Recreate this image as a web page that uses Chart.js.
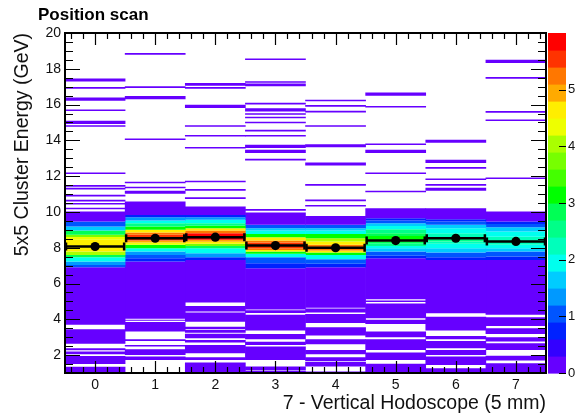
<!DOCTYPE html>
<html>
<head>
<meta charset="utf-8">
<script src="https://cdn.jsdelivr.net/npm/chart.js@4.4.1/dist/chart.umd.min.js"></script>
<style>
html, body { margin: 0; padding: 0; background: #fff; }
</style>
</head>
<body>
<canvas id="scanCanvas" width="584" height="415"></canvas>
<script>
// columnas (canal del hodoscopio)
const columns = ['0', '1', '2', '3', '4', '5', '6', '7']
const yTicks = [2, 4, 6, 8, 10, 12, 14, 16, 18, 20]
const zTicks = [0, 1, 2, 3, 4, 5]
const zMax = 6

// celdas por columna: [E min, E max, contenido]
const col0 = [
  [1.0, 1.35, 0.15], [1.5, 1.95, 0.15], [2.05, 2.2, 0.15], [2.27, 2.38, 0.15], [2.63, 3.45, 0.15], [3.69, 6.91, 0.15],
  [6.91, 7.04, 1.05], [7.04, 7.23, 1.35], [7.23, 7.47, 1.95], [7.47, 7.6, 2.85], [7.6, 7.79, 3.9], [7.79, 8.44, 4.65],
  [8.44, 8.6, 4.3], [8.6, 8.72, 3.6], [8.72, 8.96, 2.8], [8.96, 9.18, 1.65], [9.18, 9.46, 1.05], [9.46, 10.02, 0.15],
  [10.15, 10.24, 0.15], [10.41, 10.5, 0.15], [10.59, 10.68, 0.15], [10.87, 10.96, 0.15], [11.26, 11.35, 0.15],
  [11.41, 11.5, 0.15], [12.12, 12.21, 0.15], [14.76, 14.85, 0.15], [14.92, 15.09, 0.15], [15.64, 15.73, 0.15],
  [16.22, 16.39, 0.15], [16.89, 16.98, 0.15], [17.29, 17.46, 0.15]
]
const col1 = [
  [1.73, 1.92, 0.15], [2.01, 2.33, 0.15], [2.48, 2.57, 0.15], [2.79, 2.89, 0.15], [3.32, 3.85, 0.15], [3.92, 3.98, 0.15],
  [4.03, 7.23, 0.15],
  [7.23, 7.41, 0.75], [7.41, 7.6, 1.05], [7.6, 7.79, 1.35], [7.79, 7.97, 1.95], [7.97, 8.16, 3.0], [8.16, 8.29, 4.2],
  [8.29, 8.4, 5.0], [8.4, 8.72, 5.55], [8.72, 8.85, 5.1], [8.85, 9.0, 4.6], [9.0, 9.18, 3.2], [9.18, 9.37, 2.4],
  [9.37, 9.52, 1.8], [9.52, 9.7, 1.2], [9.7, 9.83, 0.75], [9.83, 10.58, 0.15],
  [11.02, 11.18, 0.15], [11.32, 11.41, 0.15], [11.6, 11.69, 0.15], [14.02, 14.11, 0.15], [16.3, 16.48, 0.15],
  [16.93, 17.02, 0.15], [18.79, 18.88, 0.15]
]
const col2 = [
  [1.0, 1.58, 0.15], [1.73, 1.88, 0.15], [2.1, 2.57, 0.15], [2.7, 2.85, 0.15], [2.94, 3.2, 0.15], [3.25, 3.4, 0.15],
  [3.45, 3.59, 0.15], [3.87, 4.38, 0.15], [4.43, 4.75, 0.15], [4.94, 7.32, 0.15],
  [7.32, 7.47, 0.75], [7.47, 7.69, 1.2], [7.69, 7.97, 1.95], [7.97, 8.1, 2.9], [8.1, 8.22, 3.6], [8.22, 8.33, 4.6],
  [8.33, 8.44, 5.0], [8.44, 8.81, 5.75], [8.81, 8.96, 5.1], [8.96, 9.09, 4.5], [9.09, 9.23, 3.2], [9.23, 9.37, 2.6],
  [9.37, 9.56, 1.8], [9.56, 9.7, 1.2], [9.7, 9.83, 0.75], [9.83, 10.3, 0.15],
  [10.73, 10.82, 0.15], [11.19, 11.28, 0.15], [11.66, 11.75, 0.15], [13.54, 13.63, 0.15], [14.21, 14.3, 0.15],
  [14.76, 14.85, 0.15], [15.81, 15.99, 0.15], [16.89, 16.98, 0.15], [17.05, 17.2, 0.15]
]
const col3 = [
  [1.0, 1.12, 0.15], [1.15, 1.36, 0.15], [1.73, 2.48, 0.15], [2.57, 2.74, 0.15], [2.89, 3.18, 0.15], [3.37, 4.25, 0.15],
  [4.35, 4.5, 0.15], [4.55, 6.86, 0.15],
  [6.86, 7.13, 0.75], [7.13, 7.47, 1.1], [7.47, 7.66, 1.95], [7.66, 7.79, 3.0], [7.79, 7.88, 4.5], [7.88, 7.97, 5.1],
  [7.97, 8.29, 5.6], [8.29, 8.4, 5.1], [8.4, 8.59, 4.5], [8.59, 8.77, 3.0], [8.77, 8.96, 2.0], [8.96, 9.09, 1.5],
  [9.09, 9.28, 1.05], [9.28, 9.97, 0.15],
  [10.07, 10.16, 0.15], [12.88, 12.97, 0.15], [13.3, 13.48, 0.15], [13.58, 13.76, 0.15], [14.21, 14.3, 0.15],
  [14.5, 14.59, 0.15], [14.95, 15.04, 0.15], [15.23, 15.32, 0.15], [15.43, 15.52, 0.15], [15.61, 15.79, 0.15],
  [16.01, 16.1, 0.15], [17.02, 17.18, 0.15], [17.22, 17.3, 0.15], [18.49, 18.58, 0.15]
]
const col4 = [
  [1.0, 1.08, 0.15], [1.36, 1.62, 0.15], [1.66, 1.88, 0.15], [2.05, 2.29, 0.15], [2.6, 2.89, 0.15], [3.1, 3.56, 0.15],
  [3.8, 4.3, 0.15], [4.38, 4.6, 0.15], [4.65, 6.91, 0.15],
  [6.91, 7.1, 0.75], [7.1, 7.36, 1.1], [7.36, 7.6, 1.95], [7.6, 7.73, 3.0], [7.73, 7.84, 4.5], [7.84, 8.16, 5.2],
  [8.16, 8.35, 4.6], [8.35, 8.53, 4.0], [8.53, 8.77, 3.0], [8.77, 8.96, 2.0], [8.96, 9.09, 1.5], [9.09, 9.28, 1.05],
  [9.28, 9.78, 0.15],
  [10.3, 10.39, 0.15], [10.6, 10.69, 0.15], [11.47, 11.56, 0.15], [12.59, 12.77, 0.15], [13.61, 13.79, 0.15],
  [14.76, 14.85, 0.15], [15.56, 15.65, 0.15], [15.88, 15.97, 0.15], [16.18, 16.27, 0.15]
]
const col5 = [
  [1.0, 1.51, 0.15], [1.73, 2.14, 0.15], [2.29, 2.89, 0.15], [3.0, 3.32, 0.15], [3.74, 3.97, 0.15], [4.06, 4.88, 0.15],
  [4.97, 5.05, 0.15], [5.12, 7.41, 0.15],
  [7.41, 7.55, 0.75], [7.55, 7.79, 1.1], [7.79, 7.97, 1.5], [7.97, 8.1, 1.95], [8.1, 8.25, 2.4], [8.25, 8.35, 2.9],
  [8.35, 8.65, 3.15], [8.65, 8.81, 2.9], [8.81, 9.03, 2.4], [9.03, 9.22, 1.95], [9.22, 9.37, 1.5], [9.37, 9.52, 1.1],
  [9.52, 9.65, 0.75], [9.65, 10.21, 0.15],
  [11.1, 11.19, 0.15], [12.12, 12.21, 0.15], [13.3, 13.48, 0.15], [13.74, 13.83, 0.15], [15.83, 15.92, 0.15],
  [16.5, 16.68, 0.15]
]
const col6 = [
  [1.0, 1.27, 0.15], [1.45, 1.92, 0.15], [2.01, 2.29, 0.15], [2.38, 2.79, 0.15], [2.89, 3.07, 0.15], [3.37, 4.15, 0.15],
  [4.34, 7.32, 0.15],
  [7.32, 7.47, 0.75], [7.47, 7.73, 1.1], [7.73, 7.97, 1.5], [7.97, 8.22, 1.95], [8.22, 8.35, 2.3], [8.35, 8.59, 2.6],
  [8.59, 8.81, 2.3], [8.81, 9.09, 1.95], [9.09, 9.28, 1.5], [9.28, 9.46, 1.1], [9.46, 9.59, 0.75], [9.59, 10.21, 0.15],
  [11.18, 11.35, 0.15], [11.47, 11.56, 0.15], [11.78, 11.87, 0.15], [12.42, 12.51, 0.15], [12.74, 12.92, 0.15],
  [13.86, 14.04, 0.15]
]
const col7 = [
  [1.0, 1.55, 0.15], [1.7, 1.96, 0.15], [2.29, 2.66, 0.15], [2.76, 3.0, 0.15], [3.18, 3.5, 0.15], [3.63, 4.12, 0.15],
  [4.25, 7.32, 0.15],
  [7.32, 7.51, 0.75], [7.51, 7.79, 1.1], [7.79, 7.97, 1.5], [7.97, 8.16, 1.95], [8.16, 8.62, 2.3], [8.62, 8.91, 1.95],
  [8.91, 9.15, 1.5], [9.15, 9.33, 1.1], [9.33, 9.46, 0.75], [9.46, 10.02, 0.15],
  [11.84, 11.93, 0.15], [15.08, 15.17, 0.15], [15.55, 15.64, 0.15], [17.45, 17.54, 0.15], [18.33, 18.51, 0.15]
]
const cells = [col0, col1, col2, col3, col4, col5, col6, col7]

// perfil (media de energía por columna)
const profileMean = [8.07, 8.53, 8.59, 8.12, 8.0, 8.4, 8.53, 8.35]

// paleta de ROOT, de abajo arriba
const palette = ['#6600ff', '#3300ff', '#0022ff', '#0055ff', '#0099ff', '#00ccff', '#00ffee', '#00ffbb', '#00ff88', '#00ff55',
  '#00ff00', '#44ff00', '#77ff00', '#aaff00', '#eeff00', '#ffee00', '#ffaa00', '#ff7700', '#ff3300', '#ff0000']
const zStep = zMax / palette.length

const colorOf = (v) => palette[Math.min(palette.length - 1, Math.floor(v / zStep + 1e-9))]

Chart.defaults.font.family = '"Liberation Sans", Arial, Helvetica, sans-serif'
Chart.defaults.color = '#111'

// marco, marcas, barras de error y escala de color
const rootFrame = {
  id: 'rootFrame',
  afterDatasetsDraw(chart) {
    const {ctx, chartArea: a, scales: {x, y, z}} = chart
    ctx.save()
    ctx.strokeStyle = '#000'

    // barras horizontales del perfil
    ctx.lineWidth = 2.5
    profileMean.forEach((m, i) => {
      const x0 = x.getPixelForValue(i - 0.5), x1 = x.getPixelForValue(i + 0.5)
      const py = y.getPixelForValue(m)
      ctx.beginPath()
      ctx.moveTo(x0, py); ctx.lineTo(x1, py)
      ctx.moveTo(x0 + 1, py - 4); ctx.lineTo(x0 + 1, py + 4)
      ctx.moveTo(x1 - 1, py - 4); ctx.lineTo(x1 - 1, py + 4)
      ctx.stroke()
    })

    // marcas hacia dentro
    ctx.lineWidth = 1.2
    ctx.beginPath()
    for (let k = 2; k <= 40; k++) {
      const v = k / 2
      const py = Math.round(y.getPixelForValue(v)) + 0.5
      const len = yTicks.includes(v) ? 15 : 8
      ctx.moveTo(a.left, py); ctx.lineTo(a.left + len, py)
      ctx.moveTo(a.right, py); ctx.lineTo(a.right - len, py)
    }
    for (let k = -2; k <= 37; k++) {
      const px = Math.round(x.getPixelForValue(k / 5)) + 0.5
      const len = k % 5 === 0 ? 12 : 6
      ctx.moveTo(px, a.bottom); ctx.lineTo(px, a.bottom - len)
      ctx.moveTo(px, a.top); ctx.lineTo(px, a.top + len)
    }
    ctx.stroke()

    ctx.lineWidth = 2
    ctx.strokeRect(a.left, a.top, a.right - a.left, a.bottom - a.top)

    // escala de color
    const cx = a.right + 2, cw = 18
    palette.forEach((c, k) => {
      const top = z.getPixelForValue((k + 1) * zStep)
      const bot = z.getPixelForValue(k * zStep)
      ctx.fillStyle = c
      ctx.fillRect(cx, top, cw, bot - top + 0.6)
    })
    ctx.lineWidth = 1.2
    ctx.beginPath()
    zTicks.forEach(v => {
      const py = Math.round(z.getPixelForValue(v)) + 0.5
      ctx.moveTo(cx + cw - 7, py); ctx.lineTo(cx + cw, py)
    })
    ctx.stroke()

    // título
    ctx.fillStyle = '#000'
    ctx.font = 'bold 17px "Liberation Sans", Arial, sans-serif'
    ctx.textBaseline = 'middle'
    ctx.fillText('Position scan', 38, 15)
    ctx.restore()
  }
}

const datasets = cells.map((list, c) => ({
  type: 'bar',
  order: 2,
  data: list.map(([lo, hi, v]) => ({x: columns[c], y: [lo, hi], v: v})),
  backgroundColor: (ctx) => ctx.raw ? colorOf(ctx.raw.v) : palette[0],
  borderWidth: 0,
  grouped: false,
  barPercentage: 1.01,
  categoryPercentage: 1
}))

datasets.push({
  type: 'scatter',
  order: 0,
  data: profileMean.map((m, i) => ({x: columns[i], y: m})),
  pointRadius: 4.6,
  pointBackgroundColor: '#000',
  pointBorderWidth: 0
})

const scanChart = new Chart(document.getElementById('scanCanvas'), {
  type: 'bar',
  data: { labels: columns, datasets: datasets },
  options: {
    responsive: false,
    animation: false,
    layout: { padding: { top: 33, left: 0, right: 0, bottom: 0 } },
    plugins: { legend: { display: false }, tooltip: { enabled: false } },
    scales: {
      x: {
        type: 'category',
        offset: true,
        grid: { display: false, drawTicks: false },
        border: { display: false },
        ticks: { font: { size: 14 }, padding: 4, maxRotation: 0 },
        title: { display: true, text: '7 - Vertical Hodoscope (5 mm)', align: 'end', font: { size: 19.5 }, padding: { top: 0, bottom: 0 } },
        afterFit: (s) => { s.height = 42 }
      },
      y: {
        type: 'linear',
        min: 1,
        max: 20,
        grid: { display: false, drawTicks: false },
        border: { display: false },
        afterBuildTicks: (s) => { s.ticks = yTicks.map(v => ({value: v})) },
        ticks: { font: { size: 14 }, padding: 4 },
        title: { display: true, text: '5x5 Cluster Energy (GeV)', align: 'end', font: { size: 19.5 }, padding: { top: 11, bottom: 0 } },
        afterFit: (s) => { s.width = 65 }
      },
      z: {
        type: 'linear',
        position: 'right',
        min: 0,
        max: zMax,
        grid: { display: false, drawTicks: false },
        border: { display: false },
        afterBuildTicks: (s) => { s.ticks = zTicks.map(v => ({value: v})) },
        ticks: { font: { size: 13 }, padding: 22 },
        afterFit: (s) => { s.width = 38 }
      }
    }
  },
  plugins: [rootFrame]
})
</script>
</body>
</html>
